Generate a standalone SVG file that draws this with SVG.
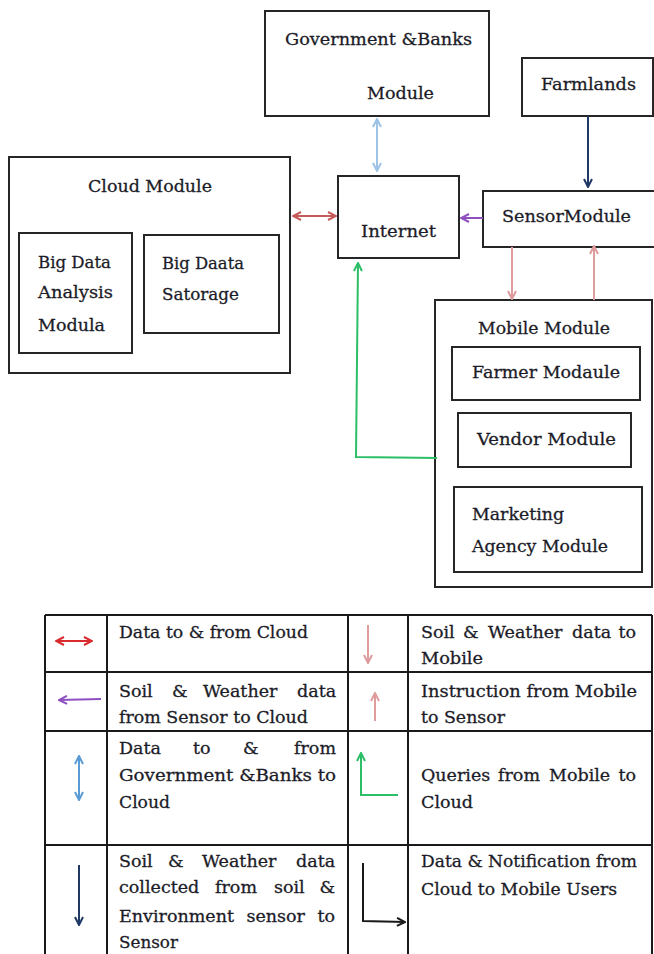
<svg xmlns="http://www.w3.org/2000/svg" width="654" height="954" viewBox="0 0 654 954">
<style>
.box{fill:#fff;stroke:#262626;stroke-width:2}
.t{font-family:"DejaVu Serif","Liberation Serif",serif;font-size:17.5px;fill:#1c1c28;stroke:#1c1c28;stroke-width:0.3}
.grid{stroke:#1a1a1a;stroke-width:2;fill:none}
.c{fill:none;stroke-width:2}
</style>
<defs>
<marker id="mLB" viewBox="0 0 10 10" refX="9" refY="5" markerWidth="10" markerHeight="10" markerUnits="userSpaceOnUse" orient="auto-start-reverse"><path d="M1,1 L9,5 L1,9" fill="none" stroke="#9DC3E6" stroke-width="2"/></marker>
<marker id="mNV" viewBox="0 0 10 10" refX="9" refY="5" markerWidth="10" markerHeight="10" markerUnits="userSpaceOnUse" orient="auto-start-reverse"><path d="M1,1 L9,5 L1,9" fill="none" stroke="#203864" stroke-width="2"/></marker>
<marker id="mRD" viewBox="0 0 10 10" refX="9" refY="5" markerWidth="10" markerHeight="10" markerUnits="userSpaceOnUse" orient="auto-start-reverse"><path d="M1,1 L9,5 L1,9" fill="none" stroke="#C55A58" stroke-width="2"/></marker>
<marker id="mRD2" viewBox="0 0 10 10" refX="9" refY="5" markerWidth="10" markerHeight="10" markerUnits="userSpaceOnUse" orient="auto-start-reverse"><path d="M1,1 L9,5 L1,9" fill="none" stroke="#D92A2E" stroke-width="2"/></marker>
<marker id="mPU" viewBox="0 0 10 10" refX="9" refY="5" markerWidth="10" markerHeight="10" markerUnits="userSpaceOnUse" orient="auto-start-reverse"><path d="M1,1 L9,5 L1,9" fill="none" stroke="#8E4FC0" stroke-width="2"/></marker>
<marker id="mPK" viewBox="0 0 10 10" refX="9" refY="5" markerWidth="10" markerHeight="10" markerUnits="userSpaceOnUse" orient="auto-start-reverse"><path d="M1,1 L9,5 L1,9" fill="none" stroke="#DE9C9C" stroke-width="2"/></marker>
<marker id="mGR" viewBox="0 0 10 10" refX="9" refY="5" markerWidth="10" markerHeight="10" markerUnits="userSpaceOnUse" orient="auto-start-reverse"><path d="M1,1 L9,5 L1,9" fill="none" stroke="#2DBF68" stroke-width="2"/></marker>
<marker id="mBL" viewBox="0 0 10 10" refX="9" refY="5" markerWidth="10" markerHeight="10" markerUnits="userSpaceOnUse" orient="auto-start-reverse"><path d="M1,1 L9,5 L1,9" fill="none" stroke="#5B9BD5" stroke-width="2"/></marker>
<marker id="mBK" viewBox="0 0 10 10" refX="9" refY="5" markerWidth="10" markerHeight="10" markerUnits="userSpaceOnUse" orient="auto-start-reverse"><path d="M1,1 L9,5 L1,9" fill="none" stroke="#1a1a1a" stroke-width="2"/></marker>
</defs>
<rect width="654" height="954" fill="#fff"/>

<g id="gov">
<rect class="box" x="265" y="11" width="224" height="105"/>
<text class="t" x="285" y="45" textLength="187" lengthAdjust="spacingAndGlyphs">Government &amp;Banks</text>
<text class="t" x="367" y="99" textLength="67" lengthAdjust="spacingAndGlyphs">Module</text>
</g>
<g id="farmlands">
<rect class="box" x="522" y="58" width="131" height="58"/>
<text class="t" x="541" y="90" textLength="95" lengthAdjust="spacingAndGlyphs">Farmlands</text>
</g>
<g id="internet">
<rect class="box" x="338" y="176" width="121" height="82"/>
<text class="t" x="361" y="237" textLength="75" lengthAdjust="spacingAndGlyphs">Internet</text>
</g>
<g id="sensor">
<rect class="box" x="483" y="191" width="172" height="56"/>
<text class="t" x="502" y="222" textLength="129" lengthAdjust="spacingAndGlyphs">SensorModule</text>
</g>
<g id="cloud">
<rect class="box" x="9" y="157" width="281" height="216"/>
<text class="t" x="88" y="192" textLength="124" lengthAdjust="spacingAndGlyphs">Cloud Module</text>
</g>
<g id="bigdata-analysis">
<rect class="box" x="19" y="233" width="113" height="120"/>
<text class="t" x="38" y="268" textLength="73" lengthAdjust="spacingAndGlyphs">Big Data</text>
<text class="t" x="38" y="298" textLength="75" lengthAdjust="spacingAndGlyphs">Analysis</text>
<text class="t" x="38" y="331" textLength="67" lengthAdjust="spacingAndGlyphs">Modula</text>
</g>
<g id="bigdata-storage">
<rect class="box" x="144" y="235" width="135" height="98"/>
<text class="t" x="162" y="269" textLength="82" lengthAdjust="spacingAndGlyphs">Big Daata</text>
<text class="t" x="162" y="300" textLength="77" lengthAdjust="spacingAndGlyphs">Satorage</text>
</g>
<g id="mobile">
<rect class="box" x="435" y="300" width="217" height="287"/>
<text class="t" x="478" y="334" textLength="132" lengthAdjust="spacingAndGlyphs">Mobile Module</text>
</g>
<g id="farmer">
<rect class="box" x="452" y="347" width="188" height="53"/>
<text class="t" x="472" y="378" textLength="148" lengthAdjust="spacingAndGlyphs">Farmer Modaule</text>
</g>
<g id="vendor">
<rect class="box" x="458" y="413" width="173" height="54"/>
<text class="t" x="477" y="445" textLength="139" lengthAdjust="spacingAndGlyphs">Vendor Module</text>
</g>
<g id="marketing">
<rect class="box" x="454" y="487" width="188" height="85"/>
<text class="t" x="472" y="520" textLength="92" lengthAdjust="spacingAndGlyphs">Marketing</text>
<text class="t" x="472" y="552" textLength="136" lengthAdjust="spacingAndGlyphs">Agency Module</text>
</g>

<g id="connectors">
<line class="c" x1="377" y1="119" x2="377" y2="171" stroke="#9DC3E6" marker-start="url(#mLB)" marker-end="url(#mLB)"/>
<line class="c" x1="588" y1="116" x2="588" y2="187" stroke="#203864" marker-end="url(#mNV)"/>
<line class="c" x1="293" y1="216" x2="336" y2="216" stroke="#C55A58" marker-start="url(#mRD)" marker-end="url(#mRD)"/>
<line class="c" x1="483" y1="218" x2="461" y2="218" stroke="#8E4FC0" marker-end="url(#mPU)"/>
<line class="c" x1="512" y1="247" x2="512" y2="299" stroke="#DE9C9C" marker-end="url(#mPK)"/>
<line class="c" x1="594" y1="300" x2="594" y2="246" stroke="#DE9C9C" marker-end="url(#mPK)"/>
<polyline class="c" points="437,458 356,457 358,263" stroke="#2DBF68" marker-end="url(#mGR)"/>
</g>

<g id="legend">
<path class="grid" d="M45,615 H652 M45,615 V954 M652,615 V954 M107,615 V954 M348,615 V954 M408,615 V954 M45,672 H652 M45,731 H652 M45,845 H652"/>
<line class="c" x1="56" y1="641" x2="92" y2="641" stroke="#D92A2E" marker-start="url(#mRD2)" marker-end="url(#mRD2)"/>
<line class="c" x1="101" y1="699" x2="59" y2="700" stroke="#8E4FC0" marker-end="url(#mPU)"/>
<line class="c" x1="79" y1="756" x2="79" y2="800" stroke="#5B9BD5" marker-start="url(#mBL)" marker-end="url(#mBL)"/>
<line class="c" x1="79" y1="865" x2="79" y2="925" stroke="#203864" marker-end="url(#mNV)"/>
<line class="c" x1="368" y1="625" x2="368" y2="663" stroke="#DE9C9C" marker-end="url(#mPK)"/>
<line class="c" x1="375" y1="721" x2="375" y2="693" stroke="#DE9C9C" marker-end="url(#mPK)"/>
<polyline class="c" points="398,795 361,795 361,753" stroke="#2DBF68" marker-end="url(#mGR)"/>
<polyline class="c" points="363,863 363,921 405,922" stroke="#1a1a1a" marker-end="url(#mBK)"/>

<text class="t" x="119" y="638" textLength="189" lengthAdjust="spacingAndGlyphs">Data to &amp; from Cloud</text>
<text class="t" y="697"><tspan x="119">Soil</tspan><tspan x="172">&amp;</tspan><tspan x="203">Weather</tspan><tspan x="297">data</tspan></text>
<text class="t" x="119" y="723" textLength="189" lengthAdjust="spacingAndGlyphs">from Sensor to Cloud</text>
<text class="t" y="754"><tspan x="119">Data</tspan><tspan x="193">to</tspan><tspan x="243">&amp;</tspan><tspan x="294">from</tspan></text>
<text class="t" x="119" y="781" textLength="217" lengthAdjust="spacingAndGlyphs">Government &amp;Banks to</text>
<text class="t" x="119" y="808" textLength="51" lengthAdjust="spacingAndGlyphs">Cloud</text>
<text class="t" y="867"><tspan x="119">Soil</tspan><tspan x="168">&amp;</tspan><tspan x="202">Weather</tspan><tspan x="296">data</tspan></text>
<text class="t" y="893"><tspan x="119">collected</tspan><tspan x="215">from</tspan><tspan x="274">soil</tspan><tspan x="319.5">&amp;</tspan></text>
<text class="t" y="922"><tspan x="119">Environment</tspan><tspan x="246.5">sensor</tspan><tspan x="317.5">to</tspan></text>
<text class="t" x="119" y="948" textLength="59" lengthAdjust="spacingAndGlyphs">Sensor</text>

<text class="t" y="638"><tspan x="421">Soil</tspan><tspan x="463">&amp;</tspan><tspan x="488">Weather</tspan><tspan x="572">data</tspan><tspan x="618.5">to</tspan></text>
<text class="t" x="421" y="664" textLength="62" lengthAdjust="spacingAndGlyphs">Mobile</text>
<text class="t" x="421" y="697" textLength="216" lengthAdjust="spacingAndGlyphs">Instruction from Mobile</text>
<text class="t" x="421" y="723" textLength="84" lengthAdjust="spacingAndGlyphs">to Sensor</text>
<text class="t" y="781"><tspan x="421">Queries</tspan><tspan x="498">from</tspan><tspan x="549">Mobile</tspan><tspan x="618.5">to</tspan></text>
<text class="t" x="421" y="808" textLength="52" lengthAdjust="spacingAndGlyphs">Cloud</text>
<text class="t" x="421" y="867" textLength="216" lengthAdjust="spacingAndGlyphs">Data &amp; Notification from</text>
<text class="t" x="421" y="895" textLength="196" lengthAdjust="spacingAndGlyphs">Cloud to Mobile Users</text>
</g>
</svg>
